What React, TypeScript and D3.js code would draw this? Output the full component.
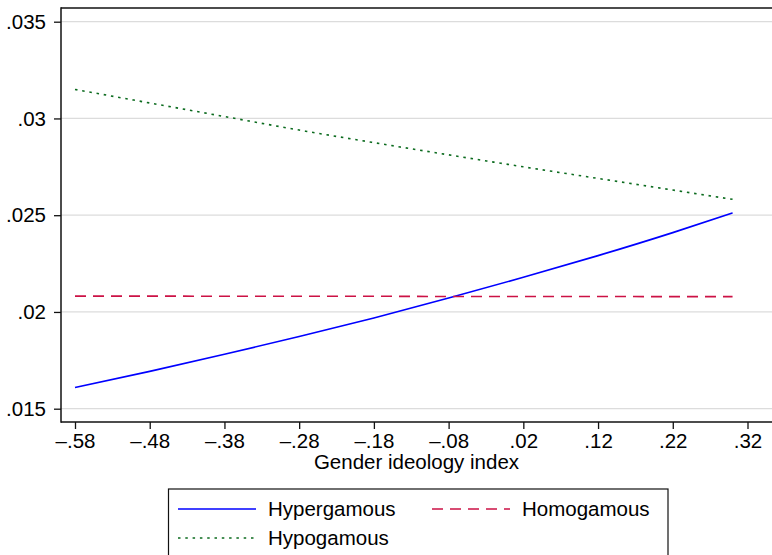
import React, { useEffect, useRef } from "react";
import * as d3 from "d3";

const xValues = [-0.58, -0.48, -0.38, -0.28, -0.18, -0.08, 0.02, 0.12, 0.22, 0.3];
const hypergamous = [0.0161, 0.01693, 0.01781, 0.01873, 0.01969, 0.02072, 0.02179, 0.02291, 0.0241, 0.02512];
const homogamous = [0.02082, 0.02082, 0.02081, 0.02081, 0.02081, 0.0208, 0.0208, 0.0208, 0.02079, 0.02079];
const hypogamous = [0.0315, 0.0308, 0.0301, 0.0294, 0.02875, 0.02812, 0.0275, 0.0269, 0.0263, 0.02582];

const xTicks = [-0.58, -0.48, -0.38, -0.28, -0.18, -0.08, 0.02, 0.12, 0.22, 0.32];
const yTicks = [0.015, 0.02, 0.025, 0.03, 0.035];

const seriesList = [
  { name: "Hypergamous", values: hypergamous, color: "#0000ff", dash: "none" },
  { name: "Homogamous", values: homogamous, color: "#cc1245", dash: "11,7" },
  { name: "Hypogamous", values: hypogamous, color: "#0b6b1e", dash: "2.5,4.8" },
];

const fmt = (v: number) => {
  const s = d3.format(".3~f")(Math.abs(v)).replace(/^0/, "");
  return v < 0 ? "\u2013" + s : s;
};

const App: React.FC = () => {
  const svgRef = useRef<SVGSVGElement | null>(null);

  const width = 772;
  const height = 555;

  useEffect(() => {
    const svg = d3.select(svgRef.current);
    svg.selectAll("*").remove();

    const left = 61;
    const right = 772;
    const top = 8;
    const bottom = 422;

    const xScale = d3.scaleLinear().domain([-0.58, 0.32]).range([75, 747.5]);
    const yScale = d3.scaleLinear().domain([0.015, 0.035]).range([408.7, 21.7]);

    const font = "Liberation Sans, Arial, Helvetica, sans-serif";
    const fontSize = 20.5;

    // gridlines
    svg
      .append("g")
      .selectAll("line")
      .data(yTicks)
      .enter()
      .append("line")
      .attr("x1", left)
      .attr("x2", right)
      .attr("y1", (d) => yScale(d))
      .attr("y2", (d) => yScale(d))
      .attr("stroke", "#dcdcdc")
      .attr("stroke-width", 1.3);

    // top border
    svg
      .append("line")
      .attr("x1", left)
      .attr("x2", right)
      .attr("y1", top)
      .attr("y2", top)
      .attr("stroke", "#111")
      .attr("stroke-width", 1.5);

    const yAxis = d3
      .axisLeft(yScale)
      .tickValues(yTicks)
      .tickSize(7)
      .tickPadding(8)
      .tickFormat((d) => fmt(d as number));

    svg
      .append("g")
      .attr("transform", `translate(${left},0)`)
      .call(yAxis)
      .call((g) => g.select(".domain").remove())
      .call((g) =>
        g.selectAll(".tick line").attr("stroke", "#111").attr("stroke-width", 1.3)
      )
      .call((g) =>
        g
          .selectAll(".tick text")
          .attr("font-family", font)
          .attr("font-size", fontSize)
          .attr("fill", "#000")
      );

    svg
      .append("line")
      .attr("x1", left)
      .attr("x2", left)
      .attr("y1", top - 0.75)
      .attr("y2", bottom + 0.75)
      .attr("stroke", "#111")
      .attr("stroke-width", 1.5);

    const xAxis = d3
      .axisBottom(xScale)
      .tickValues(xTicks)
      .tickSize(7)
      .tickPadding(4)
      .tickFormat((d) => fmt(d as number));

    svg
      .append("g")
      .attr("transform", `translate(0,${bottom})`)
      .call(xAxis)
      .call((g) => g.select(".domain").remove())
      .call((g) =>
        g.selectAll(".tick line").attr("stroke", "#111").attr("stroke-width", 1.3)
      )
      .call((g) =>
        g
          .selectAll(".tick text")
          .attr("font-family", font)
          .attr("font-size", fontSize)
          .attr("fill", "#000")
      );

    svg
      .append("line")
      .attr("x1", left)
      .attr("x2", right)
      .attr("y1", bottom)
      .attr("y2", bottom)
      .attr("stroke", "#111")
      .attr("stroke-width", 1.5);

    svg
      .append("text")
      .attr("x", (left + right) / 2)
      .attr("y", 469)
      .attr("text-anchor", "middle")
      .attr("font-family", font)
      .attr("font-size", fontSize)
      .text("Gender ideology index");

    const line = d3
      .line<number>()
      .x((d, i) => xScale(xValues[i]))
      .y((d) => yScale(d))
      .curve(d3.curveMonotoneX);

    svg
      .append("g")
      .selectAll("path")
      .data(seriesList)
      .enter()
      .append("path")
      .attr("d", (s) => line(s.values))
      .attr("fill", "none")
      .attr("stroke", (s) => s.color)
      .attr("stroke-width", 1.6)
      .attr("stroke-dasharray", (s) => s.dash);

    // legend
    const legend = svg.append("g");
    legend
      .append("rect")
      .attr("x", 168.5)
      .attr("y", 489)
      .attr("width", 499.5)
      .attr("height", 80)
      .attr("fill", "#fff")
      .attr("stroke", "#111")
      .attr("stroke-width", 1.2);

    const slots = [
      { x: 178, y: 509 },
      { x: 432, y: 509 },
      { x: 178, y: 538 },
    ];

    seriesList.forEach((s, i) => {
      const p = slots[i];
      legend
        .append("line")
        .attr("x1", p.x)
        .attr("x2", p.x + 78)
        .attr("y1", p.y)
        .attr("y2", p.y)
        .attr("stroke", s.color)
        .attr("stroke-width", 1.6)
        .attr("stroke-dasharray", s.dash);
      legend
        .append("text")
        .attr("x", p.x + 90)
        .attr("y", p.y)
        .attr("dy", "0.35em")
        .attr("font-family", font)
        .attr("font-size", fontSize)
        .text(s.name);
    });
  }, [width, height]);

  return (
    <svg
      ref={svgRef}
      width={width}
      height={height}
      style={{ position: "absolute", left: 0, top: 0, background: "#fff" }}
    ></svg>
  );
};

export default App;
